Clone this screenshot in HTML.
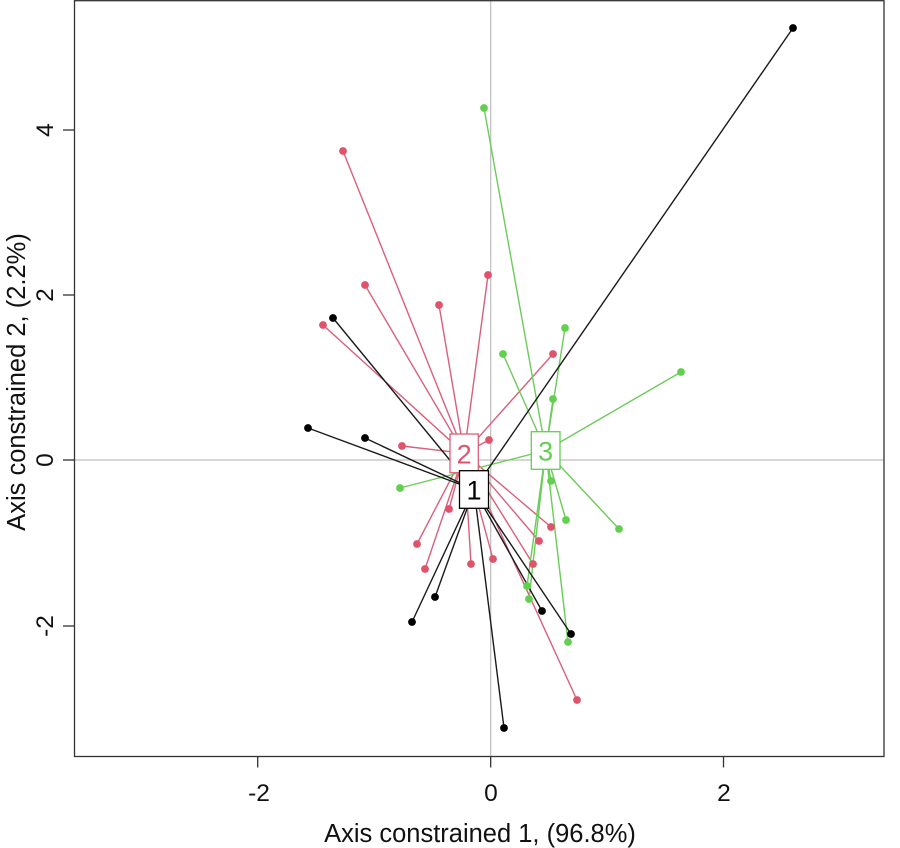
<!DOCTYPE html>
<html>
<head>
<meta charset="utf-8">
<style>
  html, body { margin: 0; padding: 0; background: #ffffff; }
  svg { display: block; }
  text { font-family: "Liberation Sans", Arial, sans-serif; }
</style>
</head>
<body>
<svg width="900" height="848" viewBox="0 0 900 848" xmlns="http://www.w3.org/2000/svg">
  <rect x="0" y="0" width="900" height="848" fill="#ffffff"/>

  <!-- reference lines -->
  <line x1="74.5" y1="460" x2="884" y2="460" stroke="#bdbdbd" stroke-width="1.2"/>
  <line x1="490.7" y1="0.5" x2="490.7" y2="756.5" stroke="#bdbdbd" stroke-width="1.2"/>

  <!-- spider lines group 2 (pink) -->
  <g stroke="#D9607A" stroke-width="1.4" fill="none">
    <line x1="464.2" y1="453.3" x2="343" y2="151"/>
    <line x1="464.2" y1="453.3" x2="365" y2="285"/>
    <line x1="464.2" y1="453.3" x2="439" y2="305"/>
    <line x1="464.2" y1="453.3" x2="323" y2="325"/>
    <line x1="464.2" y1="453.3" x2="488" y2="275"/>
    <line x1="464.2" y1="453.3" x2="553" y2="354"/>
    <line x1="464.2" y1="453.3" x2="402" y2="446"/>
    <line x1="464.2" y1="453.3" x2="489" y2="440"/>
    <line x1="464.2" y1="453.3" x2="449" y2="509"/>
    <line x1="464.2" y1="453.3" x2="417" y2="544"/>
    <line x1="464.2" y1="453.3" x2="425" y2="569"/>
    <line x1="464.2" y1="453.3" x2="471" y2="564"/>
    <line x1="464.2" y1="453.3" x2="493" y2="559"/>
    <line x1="464.2" y1="453.3" x2="551" y2="527"/>
    <line x1="464.2" y1="453.3" x2="539" y2="541"/>
    <line x1="464.2" y1="453.3" x2="533" y2="564"/>
    <line x1="464.2" y1="453.3" x2="577" y2="700"/>
  </g>

  <!-- spider lines group 3 (green) -->
  <g stroke="#6CCB5A" stroke-width="1.4" fill="none">
    <line x1="545.7" y1="450.5" x2="484" y2="108"/>
    <line x1="545.7" y1="450.5" x2="565" y2="328"/>
    <line x1="545.7" y1="450.5" x2="503" y2="354"/>
    <line x1="545.7" y1="450.5" x2="681" y2="372"/>
    <line x1="545.7" y1="450.5" x2="553" y2="399"/>
    <line x1="545.7" y1="450.5" x2="400" y2="488"/>
    <line x1="545.7" y1="450.5" x2="551" y2="481"/>
    <line x1="545.7" y1="450.5" x2="566" y2="520"/>
    <line x1="545.7" y1="450.5" x2="619" y2="529"/>
    <line x1="545.7" y1="450.5" x2="527" y2="586"/>
    <line x1="545.7" y1="450.5" x2="529" y2="599"/>
    <line x1="545.7" y1="450.5" x2="568" y2="642"/>
  </g>

  <!-- spider lines group 1 (black) -->
  <g stroke="#1a1a1a" stroke-width="1.4" fill="none">
    <line x1="474" y1="489.5" x2="793" y2="28"/>
    <line x1="474" y1="489.5" x2="333" y2="318"/>
    <line x1="474" y1="489.5" x2="308" y2="428"/>
    <line x1="474" y1="489.5" x2="365" y2="438"/>
    <line x1="474" y1="489.5" x2="435" y2="597"/>
    <line x1="474" y1="489.5" x2="412" y2="622"/>
    <line x1="474" y1="489.5" x2="504" y2="728"/>
    <line x1="474" y1="489.5" x2="542" y2="611"/>
    <line x1="474" y1="489.5" x2="571" y2="634"/>
  </g>

  <!-- points group 2 -->
  <g fill="#DF536B">
    <circle cx="343" cy="151" r="3.9"/>
    <circle cx="365" cy="285" r="3.9"/>
    <circle cx="439" cy="305" r="3.9"/>
    <circle cx="323" cy="325" r="3.9"/>
    <circle cx="488" cy="275" r="3.9"/>
    <circle cx="553" cy="354" r="3.9"/>
    <circle cx="402" cy="446" r="3.9"/>
    <circle cx="489" cy="440" r="3.9"/>
    <circle cx="449" cy="509" r="3.9"/>
    <circle cx="417" cy="544" r="3.9"/>
    <circle cx="425" cy="569" r="3.9"/>
    <circle cx="471" cy="564" r="3.9"/>
    <circle cx="493" cy="559" r="3.9"/>
    <circle cx="551" cy="527" r="3.9"/>
    <circle cx="539" cy="541" r="3.9"/>
    <circle cx="533" cy="564" r="3.9"/>
    <circle cx="577" cy="700" r="3.9"/>
  </g>

  <!-- points group 3 -->
  <g fill="#61D04F">
    <circle cx="484" cy="108" r="3.9"/>
    <circle cx="565" cy="328" r="3.9"/>
    <circle cx="503" cy="354" r="3.9"/>
    <circle cx="681" cy="372" r="3.9"/>
    <circle cx="553" cy="399" r="3.9"/>
    <circle cx="400" cy="488" r="3.9"/>
    <circle cx="551" cy="481" r="3.9"/>
    <circle cx="566" cy="520" r="3.9"/>
    <circle cx="619" cy="529" r="3.9"/>
    <circle cx="527" cy="586" r="3.9"/>
    <circle cx="529" cy="599" r="3.9"/>
    <circle cx="568" cy="642" r="3.9"/>
  </g>

  <!-- points group 1 -->
  <g fill="#000000">
    <circle cx="793" cy="28" r="3.9"/>
    <circle cx="333" cy="318" r="3.9"/>
    <circle cx="308" cy="428" r="3.9"/>
    <circle cx="365" cy="438" r="3.9"/>
    <circle cx="435" cy="597" r="3.9"/>
    <circle cx="412" cy="622" r="3.9"/>
    <circle cx="504" cy="728" r="3.9"/>
    <circle cx="542" cy="611" r="3.9"/>
    <circle cx="571" cy="634" r="3.9"/>
  </g>

  <!-- centroid labels -->
  <g>
    <rect x="450" y="434" width="28.3" height="38.7" fill="#ffffff" stroke="#D9607A" stroke-width="1.3"/>
    <text x="464.2" y="463.5" font-size="27" text-anchor="middle" fill="#DF536B">2</text>
  </g>
  <g>
    <rect x="459.5" y="470.7" width="29" height="37.6" fill="#ffffff" stroke="#000000" stroke-width="1.3"/>
    <text x="474" y="499.5" font-size="27" text-anchor="middle" fill="#000000">1</text>
  </g>
  <g>
    <rect x="531.3" y="431.7" width="28.7" height="37.6" fill="#ffffff" stroke="#61D04F" stroke-width="1.3"/>
    <text x="545.7" y="460.5" font-size="27" text-anchor="middle" fill="#61D04F">3</text>
  </g>

  <!-- frame -->
  <rect x="74.5" y="0.7" width="809.5" height="755.8" fill="none" stroke="#333333" stroke-width="1.3"/>

  <!-- x ticks -->
  <g stroke="#333333" stroke-width="1.3">
    <line x1="257.7" y1="756.5" x2="257.7" y2="767.5"/>
    <line x1="490.7" y1="756.5" x2="490.7" y2="767.5"/>
    <line x1="723.5" y1="756.5" x2="723.5" y2="767.5"/>
  </g>
  <g font-size="24.5" text-anchor="middle" fill="#111111">
    <text x="259" y="801">-2</text>
    <text x="491" y="801">0</text>
    <text x="724" y="801">2</text>
  </g>

  <!-- y ticks -->
  <g stroke="#333333" stroke-width="1.3">
    <line x1="63" y1="130" x2="74.5" y2="130"/>
    <line x1="63" y1="295" x2="74.5" y2="295"/>
    <line x1="63" y1="460" x2="74.5" y2="460"/>
    <line x1="63" y1="626" x2="74.5" y2="626"/>
  </g>
  <g font-size="24.5" text-anchor="middle" fill="#111111">
    <text transform="translate(53,130) rotate(-90)">4</text>
    <text transform="translate(53,295) rotate(-90)">2</text>
    <text transform="translate(53,460) rotate(-90)">0</text>
    <text transform="translate(53,626) rotate(-90)">-2</text>
  </g>

  <!-- axis titles -->
  <text x="480" y="842" font-size="25.5" text-anchor="middle" fill="#111111">Axis constrained 1, (96.8%)</text>
  <text transform="translate(25,382) rotate(-90)" font-size="25.5" text-anchor="middle" fill="#111111">Axis constrained 2, (2.2%)</text>
</svg>
</body>
</html>
